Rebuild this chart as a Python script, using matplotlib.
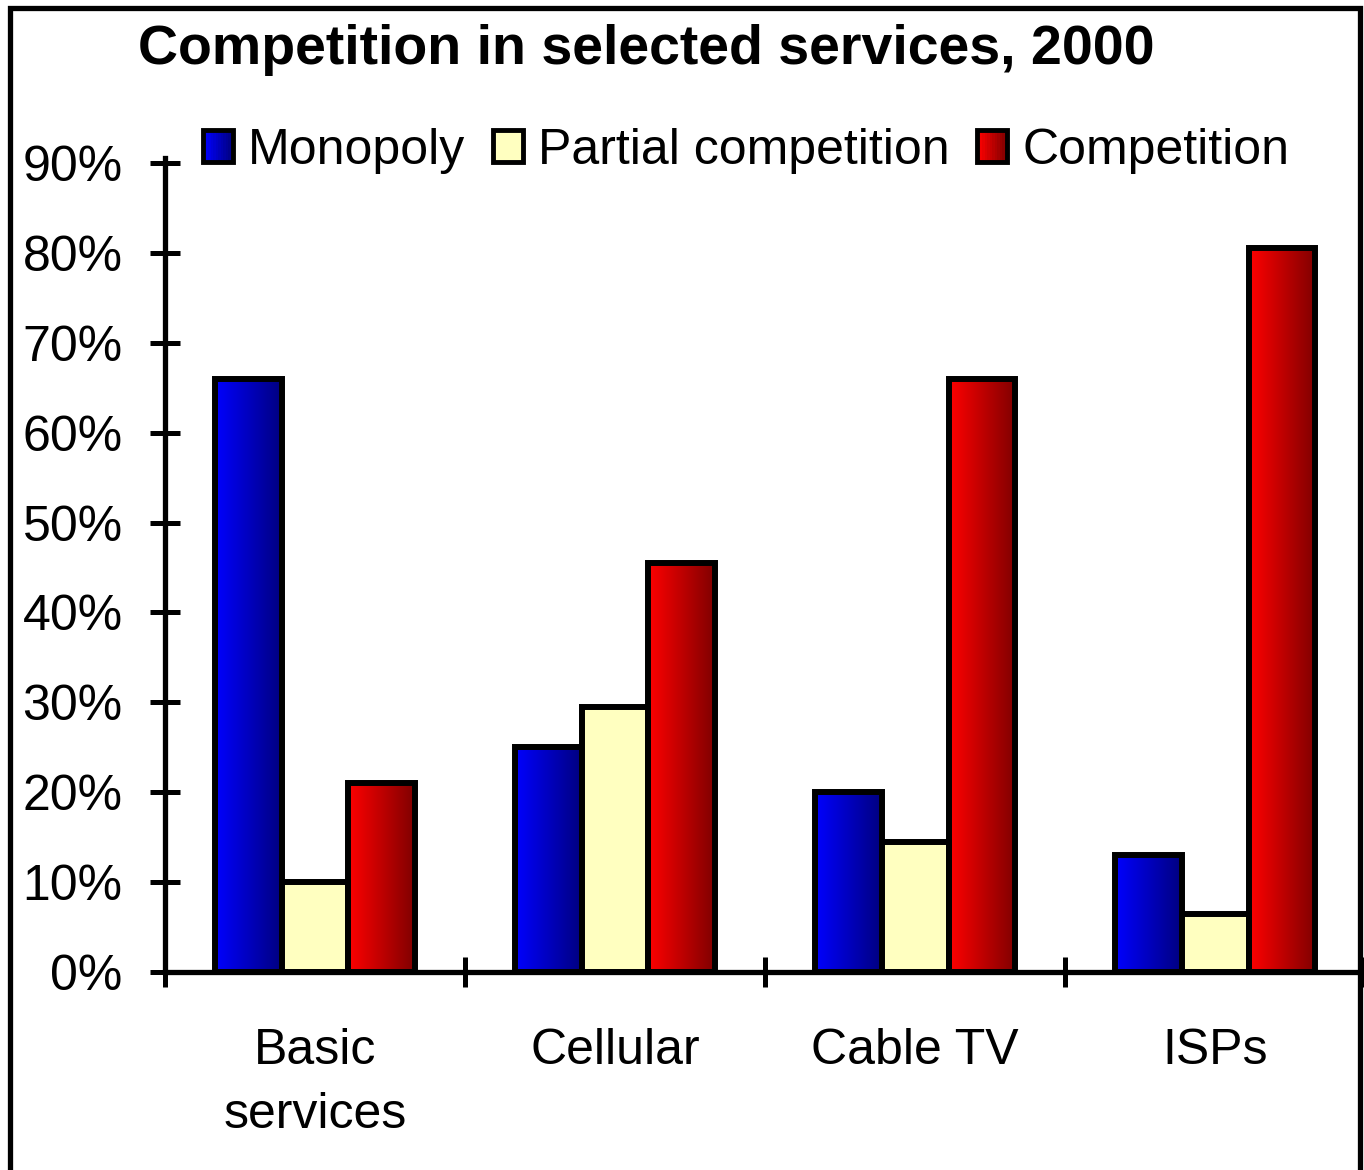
import numpy as np
import matplotlib
matplotlib.use("Agg")
import matplotlib.pyplot as plt
from matplotlib.patches import Rectangle
from matplotlib.legend_handler import HandlerBase

plt.rcParams["font.family"] = ["Liberation Sans", "DejaVu Sans"]

categories = ["Basic\nservices", "Cellular", "Cable TV", "ISPs"]
series_names = ["Monopoly", "Partial competition", "Competition"]
monopoly = [66, 25, 20, 13]
partial = [10, 29.5, 14.5, 6.5]
competition = [21, 45.5, 66, 80.5]
y_ticks = [0, 10, 20, 30, 40, 50, 60, 70, 80, 90]

BLUE = ((0, 0, 1), (0, 0, 0.5))
RED = ((1, 0, 0), (0.5, 0, 0))
YELLOW = "#FFFFC0"


def gradient_fill(ax, bars, colors):
    c0, c1 = np.array(colors[0]), np.array(colors[1])
    t = np.linspace(0, 1, 256)[:, None]
    grad = (c0 * (1 - t) + c1 * t)[None, :, :]
    for p in bars:
        x0, w, h = p.get_x(), p.get_width(), p.get_height()
        ax.imshow(grad, extent=[x0, x0 + w, 0, h], aspect="auto",
                  interpolation="bilinear", zorder=2)


class GradientHandler(HandlerBase):
    def __init__(self, colors=None, solid=None):
        super().__init__()
        self.colors = colors
        self.solid = solid

    def create_artists(self, legend, orig_handle, xdescent, ydescent,
                       width, height, fontsize, trans):
        arts = []
        x0, y0 = -xdescent, -ydescent
        if self.colors is not None:
            c0, c1 = np.array(self.colors[0]), np.array(self.colors[1])
            n = 12
            for i in range(n):
                t = i / (n - 1)
                arts.append(Rectangle((x0 + i * width / n, y0), width / n + 0.3, height,
                                      facecolor=tuple(c0 * (1 - t) + c1 * t),
                                      edgecolor="none", transform=trans))
            arts.append(Rectangle((x0, y0), width, height, facecolor="none",
                                  edgecolor="black", lw=3.5, transform=trans))
        else:
            arts.append(Rectangle((x0, y0), width, height, facecolor=self.solid,
                                  edgecolor="black", lw=3.5, transform=trans))
        return arts


fig = plt.figure(figsize=(13.64, 11.7), dpi=100)
ax = fig.add_axes([0.121, 0.1692, 0.88, 0.6915])

x = np.arange(len(categories))
w = 0.222
b1 = ax.bar(x - w, monopoly, w, facecolor="none", edgecolor="black", lw=4.3, zorder=3)
b2 = ax.bar(x, partial, w, facecolor=YELLOW, edgecolor="black", lw=4.3, zorder=3)
b3 = ax.bar(x + w, competition, w, facecolor="none", edgecolor="black", lw=4.3, zorder=3)
gradient_fill(ax, b1, BLUE)
gradient_fill(ax, b3, RED)

ax.set_xlim(-0.5, 3.5)
ax.set_ylim(0, 90)
ax.set_yticks(y_ticks)
ax.set_yticklabels([f"{v}%" for v in y_ticks])
ax.set_xticks(np.arange(-0.5, 4, 1))
ax.set_xticklabels([])
ax.set_xticks(x, minor=True)
ax.set_xticklabels(categories, minor=True, fontsize=36, linespacing=1.5)
ax.tick_params(axis="x", which="minor", length=0, pad=40)
ax.tick_params(axis="both", which="major", direction="inout", length=21, width=3.6)
ax.tick_params(axis="y", labelsize=36, pad=20)

for s in ["top", "right"]:
    ax.spines[s].set_visible(False)
for s in ["left", "bottom"]:
    ax.spines[s].set_linewidth(3.8)
ax.spines["left"].set_bounds(0, 90.5)
ax.set_facecolor("white")

fig.text(0.474, 0.957, "Competition in selected services, 2000", ha="center", va="center",
         fontsize=40, fontweight="heavy")

handles = [Rectangle((0, 0), 1, 1) for _ in series_names]
fig.legend(handles, series_names, loc="center", bbox_to_anchor=(0.547, 0.871), ncol=3,
           frameon=False, fontsize=36, handlelength=0.6, handleheight=0.6,
           handletextpad=0.3, columnspacing=0.55,
           handler_map={handles[0]: GradientHandler(colors=BLUE),
                        handles[1]: GradientHandler(solid=YELLOW),
                        handles[2]: GradientHandler(colors=RED)})

fig.patches.append(Rectangle((0.0073, -0.02), 0.9898, 1.013, transform=fig.transFigure,
                             facecolor="none", edgecolor="black", lw=3.8))

fig.savefig("out.png", dpi=100)
